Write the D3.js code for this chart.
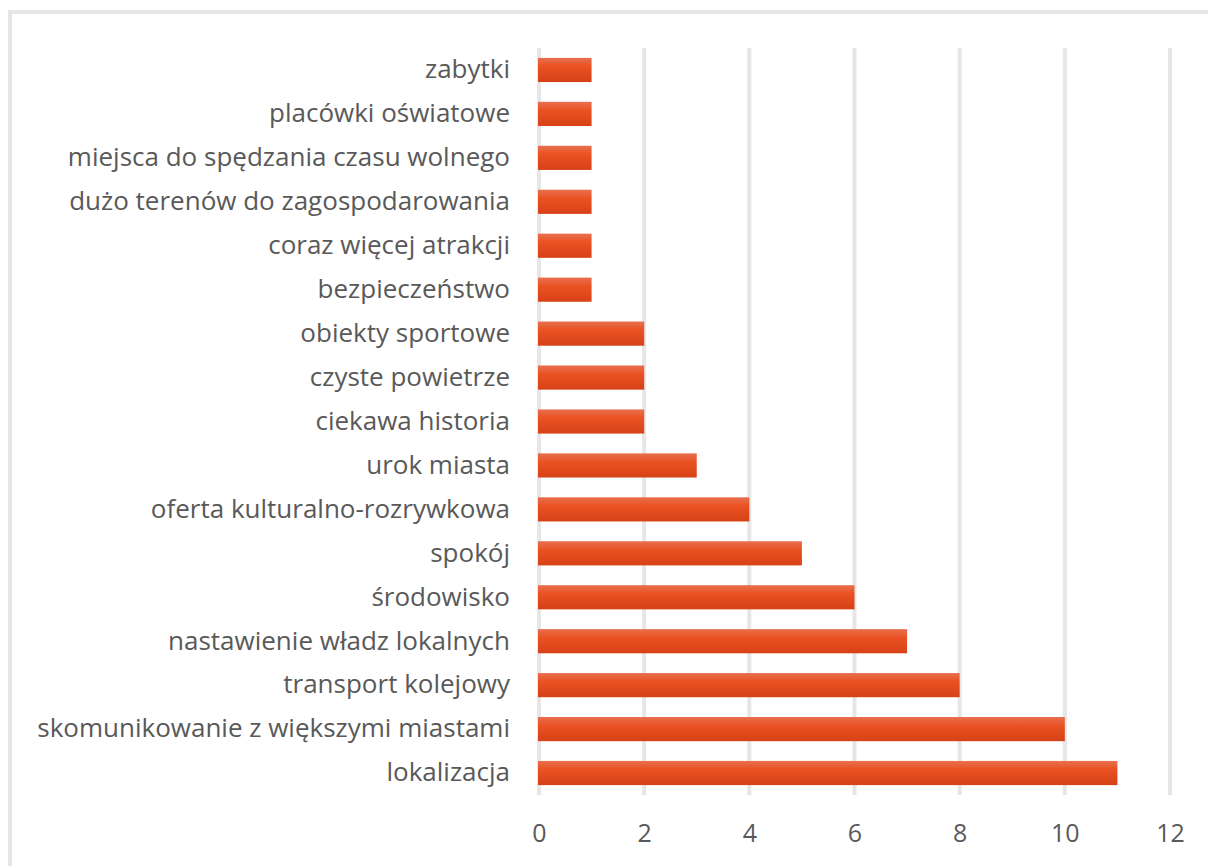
<!DOCTYPE html>
<html>
<head>
<meta charset="utf-8">
<script src="https://cdn.jsdelivr.net/npm/d3@7"></script>
<style>
  body { margin: 0; background: #fff; }
  text { font-family: "Open Sans", "Noto Sans", sans-serif; fill: #595959; }
</style>
</head>
<body>
<div id="chart"></div>
<script>
// kategorie od góry do dołu
const categories = [
  "zabytki",
  "placówki oświatowe",
  "miejsca do spędzania czasu wolnego",
  "dużo terenów do zagospodarowania",
  "coraz więcej atrakcji",
  "bezpieczeństwo",
  "obiekty sportowe",
  "czyste powietrze",
  "ciekawa historia",
  "urok miasta",
  "oferta kulturalno-rozrywkowa",
  "spokój",
  "środowisko",
  "nastawienie władz lokalnych",
  "transport kolejowy",
  "skomunikowanie z większymi miastami",
  "lokalizacja"
]
const values = [1, 1, 1, 1, 1, 1, 2, 2, 2, 3, 4, 5, 6, 7, 8, 10, 11]
const xTicks = [0, 2, 4, 6, 8, 10, 12]

const width = 1208
const height = 866
const plot = { left: 539, right: 1170, top: 48, bottom: 795 }

const svg = d3.select('#chart')
  .append('svg')
  .attr('width', width)
  .attr('height', height)

// ramka wykresu (ucięta z prawej i z dołu)
svg.append('rect')
  .attr('x', 10)
  .attr('y', 12)
  .attr('width', width + 20)
  .attr('height', height + 20)
  .attr('fill', '#fff')
  .attr('stroke', '#e6e6e6')
  .attr('stroke-width', 4)

const grad = svg.append('defs').append('linearGradient')
  .attr('id', 'barGrad')
  .attr('x1', 0).attr('y1', 0).attr('x2', 0).attr('y2', 1)
grad.append('stop').attr('offset', '0%').attr('stop-color', '#e8704f')
grad.append('stop').attr('offset', '35%').attr('stop-color', '#ea5223')
grad.append('stop').attr('offset', '100%').attr('stop-color', '#d64116')

const xScale = d3.scaleLinear()
  .domain([0, 12])
  .range([plot.left, plot.right])

const yScale = d3.scaleBand()
  .domain(categories)
  .range([plot.top, plot.bottom])
  .paddingInner(0.45)
  .paddingOuter(0.225)

// siatka
svg.append('g')
  .selectAll('line')
  .data(xTicks)
  .enter()
  .append('line')
  .attr('x1', d => xScale(d))
  .attr('x2', d => xScale(d))
  .attr('y1', plot.top)
  .attr('y2', plot.bottom)
  .attr('stroke', '#e6e6e6')
  .attr('stroke-width', 4)

// słupki
svg.append('g')
  .selectAll('rect')
  .data(categories)
  .enter()
  .append('rect')
  .attr('x', xScale(0) - 1)
  .attr('y', d => yScale(d))
  .attr('width', (d, i) => xScale(values[i]) - xScale(0) + 1)
  .attr('height', yScale.bandwidth())
  .attr('fill', 'url(#barGrad)')

// oś y - etykiety
const yAxis = d3.axisLeft(yScale).tickSize(0).tickPadding(29)
const gy = svg.append('g')
  .attr('transform', `translate(${plot.left},0)`)
  .call(yAxis)
gy.select('.domain').remove()
gy.selectAll('text')
  .style('font-size', '26px')
  .style('fill', '#595959')
  .style('font-family', '"Open Sans", sans-serif')

// oś x - etykiety
const xAxis = d3.axisBottom(xScale).tickValues(xTicks).tickSize(0).tickPadding(0)
const gx = svg.append('g')
  .attr('transform', `translate(0,${plot.bottom + 29})`)
  .call(xAxis)
gx.select('.domain').remove()
gx.selectAll('text')
  .style('font-size', '25px')
  .style('fill', '#595959')
  .style('font-family', '"Open Sans", sans-serif')
</script>
</body>
</html>
